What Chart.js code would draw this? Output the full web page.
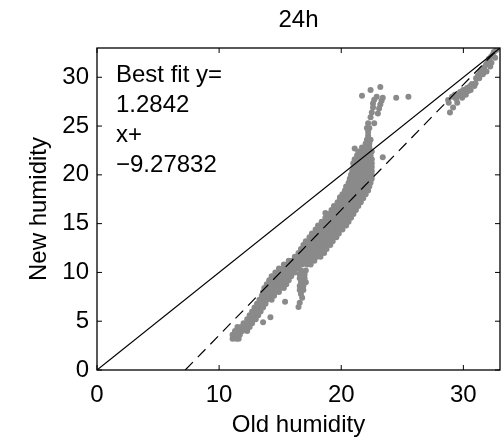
<!DOCTYPE html>
<html>
<head>
<meta charset="utf-8">
<script src="https://cdn.jsdelivr.net/npm/chart.js@4/dist/chart.umd.min.js"></script>
<style>
html,body{margin:0;padding:0;background:#fff;}
#wrap{width:504px;height:440px;}
</style>
</head>
<body>
<div id="wrap"><canvas id="c" width="504" height="440"></canvas></div>
<script>
// ---- axis / labels ----
const axisMin = 0, axisMax = 33;
const xTickValues = [0, 10, 20, 30];
const yTickValues = [0, 5, 10, 15, 20, 25, 30];
const chartTitle = '24h';
const xTitle = 'Old humidity';
const yTitle = 'New humidity';
const fitSlope = 1.2842;
const fitIntercept = -9.27832;
const fitLabel = ['Best fit y=', '1.2842', 'x+', '\u22129.27832'];

// ---- data: [old humidity, new humidity] ----
const lowerBand = [
  [11.1,3.2],[11.4,3.2],[11.6,3.2],
  [11.1,3.6],[11.4,3.6],[11.7,3.6],
  [11.3,4.0],[11.6,4.0],[11.9,4.0],[12.3,4.0],
  [11.5,4.4],[11.8,4.4],[12.2,4.4],[12.5,4.4],
  [12.0,4.8],[12.4,4.8],[12.7,4.8],
  [12.3,5.2],[12.6,5.2],[13.0,5.2],
  [12.5,5.6],[12.8,5.6],[13.2,5.6],
  [12.7,6.0],[13.0,6.0],[13.4,6.0],
  [12.9,6.4],[13.2,6.4],[13.6,6.4],
  [13.1,6.8],[13.4,6.8],[13.8,6.8],
  [13.3,7.2],[13.6,7.2],[13.9,7.2],[14.3,7.2],
  [13.5,7.6],[13.8,7.6],[14.1,7.6],[14.5,7.6],
  [13.6,8.0],[13.9,8.0],[14.2,8.0],[14.6,8.0],[14.9,8.0],
  [13.7,8.4],[14.0,8.4],[14.4,8.4],[14.7,8.4],[15.0,8.4],[15.3,8.4],
  [13.9,8.8],[14.2,8.8],[14.6,8.8],[14.9,8.8],[15.2,8.8],[15.5,8.8],
  [14.1,9.2],[14.4,9.2],[14.8,9.2],[15.1,9.2],[15.4,9.2],[15.7,9.2],
  [14.3,9.6],[14.7,9.6],[15.0,9.6],[15.3,9.6],[15.6,9.6],[15.9,9.6],
  [14.6,10.0],[14.9,10.0],[15.2,10.0],[15.6,10.0],[15.9,10.0],[16.2,10.0],
  [14.9,10.4],[15.2,10.4],[15.5,10.4],[15.9,10.4],[16.2,10.4],[16.5,10.4]
];
const branch = [
  [16.7,10.2],[17.1,10.2],[16.6,9.8],[17.0,9.8],[16.6,9.4],[17.0,9.4],
  [16.7,9.0],[17.1,9.0],[16.6,8.6],[16.9,8.6],[16.6,8.2],[16.9,8.2],
  [16.7,7.8],[16.8,7.4],[16.6,6.9],[16.5,6.45]
];
const midBand = [
  [15.3,10.8],[15.6,10.8],[15.9,10.8],[16.2,10.8],[16.5,10.8],[16.8,10.8],[17.2,10.8],[17.5,10.8],
  [15.7,11.2],[16.0,11.2],[16.3,11.2],[16.6,11.2],[16.9,11.2],[17.2,11.2],[17.5,11.2],[17.8,11.2],
  [16.2,11.6],[16.5,11.6],[16.8,11.6],[17.1,11.6],[17.4,11.6],[17.7,11.6],[18.0,11.6],[18.3,11.6],
  [16.5,12.0],[16.8,12.0],[17.1,12.0],[17.4,12.0],[17.7,12.0],[18.0,12.0],[18.3,12.0],[18.6,12.0],
  [16.7,12.4],[17.0,12.4],[17.3,12.4],[17.6,12.4],[17.9,12.4],[18.2,12.4],[18.5,12.4],[18.8,12.4],
  [16.9,12.8],[17.2,12.8],[17.5,12.8],[17.8,12.8],[18.1,12.8],[18.4,12.8],[18.7,12.8],[19.1,12.8],
  [17.1,13.2],[17.4,13.2],[17.7,13.2],[18.0,13.2],[18.3,13.2],[18.7,13.2],[19.0,13.2],[19.3,13.2],
  [17.4,13.6],[17.7,13.6],[18.0,13.6],[18.3,13.6],[18.6,13.6],[18.9,13.6],[19.2,13.6],[19.6,13.6],
  [17.6,14.0],[17.9,14.0],[18.2,14.0],[18.5,14.0],[18.8,14.0],[19.1,14.0],[19.5,14.0],[19.8,14.0],
  [17.9,14.4],[18.2,14.4],[18.5,14.4],[18.8,14.4],[19.1,14.4],[19.4,14.4],[19.7,14.4],[20.1,14.4],
  [18.1,14.8],[18.4,14.8],[18.7,14.8],[19.0,14.8],[19.3,14.8],[19.7,14.8],[20.0,14.8],[20.4,14.8],
  [18.4,15.2],[18.7,15.2],[19.0,15.2],[19.3,15.2],[19.6,15.2],[19.9,15.2],[20.2,15.2],[20.6,15.2],
  [18.7,15.6],[19.0,15.6],[19.3,15.6],[19.6,15.6],[19.9,15.6],[20.2,15.6],[20.5,15.6],[20.8,15.6],
  [18.9,16.0],[19.2,16.0],[19.5,16.0],[19.8,16.0],[20.1,16.0],[20.4,16.0],[20.7,16.0],[21.0,16.0]
];
const upperBand = [
  [19.2,16.4],[19.5,16.4],[19.8,16.4],[20.1,16.4],[20.4,16.4],[20.7,16.4],[21.0,16.4],[21.2,16.4],
  [19.4,16.8],[19.7,16.8],[20.0,16.8],[20.3,16.8],[20.6,16.8],[20.9,16.8],[21.2,16.8],[21.4,16.8],
  [19.7,17.2],[20.0,17.2],[20.3,17.2],[20.6,17.2],[20.9,17.2],[21.2,17.2],[21.4,17.2],[21.6,17.2],
  [19.9,17.6],[20.2,17.6],[20.5,17.6],[20.8,17.6],[21.1,17.6],[21.4,17.6],[21.6,17.6],[21.8,17.6],
  [20.1,18.0],[20.4,18.0],[20.7,18.0],[21.0,18.0],[21.3,18.0],[21.6,18.0],[21.8,18.0],[22.0,18.0],
  [20.3,18.4],[20.6,18.4],[20.9,18.4],[21.2,18.4],[21.5,18.4],[21.8,18.4],[22.0,18.4],[22.2,18.4],
  [20.4,18.8],[20.7,18.8],[21.0,18.8],[21.3,18.8],[21.6,18.8],[21.9,18.8],[22.1,18.8],[22.3,18.8],
  [20.6,19.2],[20.9,19.2],[21.2,19.2],[21.5,19.2],[21.8,19.2],[22.1,19.2],[22.4,19.2],
  [20.7,19.6],[21.0,19.6],[21.3,19.6],[21.6,19.6],[21.9,19.6],[22.2,19.6],[22.5,19.6],
  [20.8,20.0],[21.1,20.0],[21.4,20.0],[21.7,20.0],[22.0,20.0],[22.3,20.0],[22.5,20.0],
  [20.9,20.4],[21.2,20.4],[21.5,20.4],[21.8,20.4],[22.1,20.4],[22.4,20.4],[22.5,20.4],
  [21.0,20.8],[21.3,20.8],[21.6,20.8],[21.9,20.8],[22.2,20.8],[22.5,20.8],
  [21.0,21.2],[21.3,21.2],[21.6,21.2],[21.9,21.2],[22.2,21.2],[22.5,21.2],
  [21.1,21.6],[21.4,21.6],[21.7,21.6],[22.0,21.6],[22.3,21.6],[22.5,21.6],
  [21.3,22.0],[21.6,22.0],[21.9,22.0],[22.2,22.0],[22.4,22.0],
  [21.4,22.4],[21.7,22.4],[22.0,22.4],[22.3,22.4],[22.5,22.4],
  [21.7,22.8],[22.0,22.8],[22.3,22.8],
  [22.0,23.2],[22.3,23.2],[22.1,23.6],[22.4,23.6]
];
const column = [
  [22.2,24.0],[22.2,24.4],[22.1,24.8],[22.3,24.8],[22.2,25.3],[22.7,25.3],
  [22.4,25.9],[22.5,26.4],[22.6,26.9],[22.6,27.3],[22.7,27.7],[22.9,28.0],
  [23.0,26.3],[23.1,26.8],[23.2,27.2],[23.3,27.6],[23.4,27.9]
];
const outliers = [
  [15.4,7.0],[14.2,5.4],[13.6,4.9],
  [19.9,17.7],[18.7,16.1],[21.0,21.2],[21.1,22.7],[23.4,21.8],
  [21.7,28.1],[22.4,28.7],[23.2,29.0],[24.5,27.9],[25.5,28.0]
];
const topCluster = [
  [28.75,27.66],[28.9,26.4],[29.16,26.9],[29.07,28.0],[29.3,28.2],[29.5,27.4],
  [29.6,28.1],[29.73,28.5],[29.9,27.9],[29.98,28.7],[30.1,28.5],[30.3,28.9],
  [30.55,29.1],[30.7,29.3],[30.9,29.1],[31.04,29.9],[31.2,30.2],[31.37,30.5],
  [31.5,30.8],[31.7,31.0],[31.86,31.3],[32.0,31.6],[32.1,31.9],[32.27,32.1],
  [32.4,32.3],[32.5,32.6],[32.7,32.8],[32.85,33.0],
  [28.8,27.4],[29.4,27.8],[29.8,28.2],[30.2,28.2],[30.4,28.6],[30.6,28.7],
  [31.0,29.4],[31.3,29.9],[31.6,30.3],[31.9,30.6],[32.2,31.1],[32.3,31.5],[32.6,32.0]
];

const allPoints = [].concat(lowerBand, branch, midBand, upperBand, column, outliers, topCluster)
  .map(p => ({x: p[0], y: p[1]}));

const fitStart = (axisMin - fitIntercept) / fitSlope;
const fitEnd = (axisMax - fitIntercept) / fitSlope;

const FONT = '"Liberation Sans", Arial, Helvetica, sans-serif';
const FSIZE = 24;

const frame = {
  id: 'frame',
  afterDatasetsDraw(chart) {
    const {ctx, chartArea: a, scales: {x, y}} = chart;
    ctx.save();
    ctx.strokeStyle = '#000';
    ctx.lineWidth = 1.3;
    ctx.strokeRect(a.left, a.top, a.right - a.left, a.bottom - a.top);
    const L = 5;
    ctx.lineWidth = 1;
    ctx.beginPath();
    xTickValues.forEach(v => {
      const px = x.getPixelForValue(v);
      ctx.moveTo(px, a.bottom); ctx.lineTo(px, a.bottom - L);
      ctx.moveTo(px, a.top); ctx.lineTo(px, a.top + L);
    });
    yTickValues.forEach(v => {
      const py = y.getPixelForValue(v);
      ctx.moveTo(a.left, py); ctx.lineTo(a.left + L, py);
      ctx.moveTo(a.right, py); ctx.lineTo(a.right - L, py);
    });
    ctx.stroke();
    ctx.fillStyle = '#000';
    ctx.font = FSIZE + 'px ' + FONT;
    ctx.textAlign = 'left';
    ctx.textBaseline = 'alphabetic';
    fitLabel.forEach((t, i) => ctx.fillText(t, a.left + 19, a.top + 34 + i * 30));
    ctx.restore();
  }
};

new Chart(document.getElementById('c'), {
  type: 'scatter',
  data: {
    datasets: [
      {
        type: 'line',
        data: [{x: axisMin, y: axisMin}, {x: axisMax, y: axisMax}],
        borderColor: '#000', borderWidth: 1.2, pointRadius: 0, fill: false, order: 0
      },
      {
        type: 'line',
        data: [{x: fitStart, y: fitSlope * fitStart + fitIntercept}, {x: fitEnd, y: fitSlope * fitEnd + fitIntercept}],
        borderColor: '#000', borderWidth: 1.2, borderDash: [11, 7], pointRadius: 0, fill: false, order: 1
      },
      {
        data: allPoints,
        backgroundColor: '#8a8a8a', borderWidth: 0, pointRadius: 3, pointHoverRadius: 3, order: 2
      }
    ]
  },
  options: {
    responsive: false,
    animation: false,
    devicePixelRatio: 1,
    layout: {padding: {left: 0, right: 4, top: 0, bottom: 0}},
    plugins: {
      legend: {display: false},
      tooltip: {enabled: false},
      title: {
        display: true, text: chartTitle, color: '#000', fullSize: false,
        font: {family: FONT, size: FSIZE, weight: 'normal'},
        padding: {top: 6, bottom: 13.2}
      }
    },
    scales: {
      x: {
        type: 'linear', position: 'bottom', min: axisMin, max: axisMax,
        grid: {display: false, drawTicks: false},
        border: {display: false},
        afterBuildTicks: s => { s.ticks = xTickValues.map(v => ({value: v})); },
        afterFit: s => { s.height = 70; },
        ticks: {color: '#000', font: {family: FONT, size: FSIZE}, padding: 11, maxRotation: 0, autoSkip: false},
        title: {display: true, text: xTitle, color: '#000', font: {family: FONT, size: FSIZE}, padding: {top: 0, bottom: 0}}
      },
      y: {
        type: 'linear', position: 'left', min: axisMin, max: axisMax,
        grid: {display: false, drawTicks: false},
        border: {display: false},
        afterBuildTicks: s => { s.ticks = yTickValues.map(v => ({value: v})); },
        afterFit: s => { s.width = 97; },
        ticks: {color: '#000', font: {family: FONT, size: FSIZE}, padding: 8, autoSkip: false},
        title: {display: true, text: yTitle, color: '#000', font: {family: FONT, size: FSIZE}, padding: {top: 25, bottom: 0}}
      }
    }
  },
  plugins: [frame]
});
</script>
</body>
</html>
